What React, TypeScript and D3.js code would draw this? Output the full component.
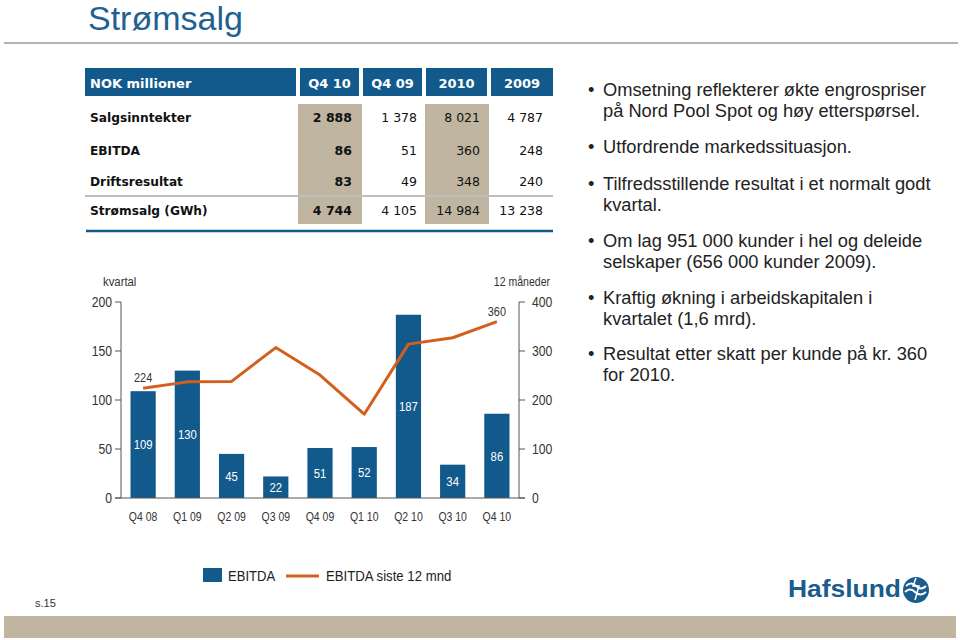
import React from "react";
import * as d3 from "d3";

const quarters = ["Q4 08", "Q1 09", "Q2 09", "Q3 09", "Q4 09", "Q1 10", "Q2 10", "Q3 10", "Q4 10"];
const ebitda = [109, 130, 45, 22, 51, 52, 187, 34, 86];
const ebitda12 = [224, 237, 238, 307, 251, 171, 314, 327, 360];
const leftTicks = [0, 50, 100, 150, 200];
const rightTicks = [0, 100, 200, 300, 400];

const tableHeader = "NOK millioner";
const tableColumns = ["Q4 10", "Q4 09", "2010", "2009"];
const tableRows = ["Salgsinntekter", "EBITDA", "Driftsresultat", "Strømsalg (GWh)"];
const tableValues = [
  ["2 888", "1 378", "8 021", "4 787"],
  ["86", "51", "360", "248"],
  ["83", "49", "348", "240"],
  ["4 744", "4 105", "14 984", "13 238"],
];

const bullets = [
  ["Omsetning reflekterer økte engrospriser", "på Nord Pool Spot og høy etterspørsel."],
  ["Utfordrende markedssituasjon."],
  ["Tilfredsstillende resultat i et normalt godt", "kvartal."],
  ["Om lag 951 000 kunder i hel og deleide", "selskaper (656 000 kunder 2009)."],
  ["Kraftig økning i arbeidskapitalen i", "kvartalet (1,6 mrd)."],
  ["Resultat etter skatt per kunde på kr. 360", "for 2010."],
];
const bulletY = [90, 147, 184, 241, 298, 354];

const BLUE = "#135a8c";
const ORANGE = "#d2601c";
const BEIGE = "#c0b5a0";
const SANS = "'Liberation Sans', Arial, sans-serif";
const VERD = "'DejaVu Sans', Verdana, sans-serif";

function NText(props: { x: number; y: number; size: number; anchor?: string; fill?: string; sx?: number; children: any }) {
  const { x, y, size, anchor = "start", fill = "#333", sx = 0.84, children } = props;
  return (
    <text transform={`translate(${x},${y}) scale(${sx},1)`} dy="0.35em" textAnchor={anchor}
      fontFamily={SANS} fontSize={size} fill={fill}>{children}</text>
  );
}

export default function App() {
  const x = d3.scaleBand<string>().domain(quarters).range([121, 519]).paddingInner(0.43).paddingOuter(0.215);
  const yL = d3.scaleLinear().domain([0, 200]).range([498, 302]);
  const yR = d3.scaleLinear().domain([0, 400]).range([498, 302]);
  const line = d3
    .line<number>()
    .x((_, i) => (x(quarters[i]) as number) + x.bandwidth() / 2)
    .y((d) => yR(d))
    .curve(d3.curveLinear);

  const colX = [298, 362, 425, 489];
  const colW = 64;
  const headerCells = [
    { x0: 85, x1: 296 },
    { x0: 300, x1: 359 },
    { x0: 363, x1: 422 },
    { x0: 426, x1: 487 },
    { x0: 491, x1: 553 },
  ];
  const rowY = [118, 151, 182, 211];
  const valueRight = [352, 417, 480, 543];

  const cx = (i: number) => (x(quarters[i]) as number) + x.bandwidth() / 2;

  return (
    <svg width={960} height={640} style={{ position: "absolute", left: 0, top: 0, background: "#fff" }}>
      <text x={88} y={30} fontFamily={SANS} fontSize={34} fill="#1f6191">Strømsalg</text>
      <line x1={4} x2={958} y1={43} y2={43} stroke="#b4b4b4" strokeWidth={2} />

      {headerCells.map((c, i) => (
        <rect key={"h" + i} x={c.x0} y={68} width={c.x1 - c.x0} height={28} fill={BLUE} />
      ))}
      <text x={90} y={83} dy="0.35em" fontFamily={VERD} fontWeight="bold" fontSize={13} fill="#fff">{tableHeader}</text>
      {tableColumns.map((c, i) => (
        <text key={"hc" + i} x={(headerCells[i + 1].x0 + headerCells[i + 1].x1) / 2} y={83} dy="0.35em" textAnchor="middle"
          fontFamily={VERD} fontWeight="bold" fontSize={13} fill="#fff">{c}</text>
      ))}
      <rect x={colX[0]} y={104} width={colW} height={120} fill={BEIGE} />
      <rect x={colX[2]} y={104} width={colW} height={120} fill={BEIGE} />
      <line x1={85} x2={553} y1={196} y2={196} stroke="#bdbdbd" strokeWidth={2} />
      <line x1={86} x2={553} y1={231} y2={231} stroke={BLUE} strokeWidth={2.5} />
      {tableRows.map((r, ri) => (
        <g key={"r" + ri}>
          <text x={90} y={rowY[ri]} dy="0.35em" fontFamily={VERD} fontWeight="bold" fontSize={12.2} fill="#111">{r}</text>
          {tableValues[ri].map((v, ci) => (
            <text key={ci} x={valueRight[ci]} y={rowY[ri]} dy="0.35em" textAnchor="end" fontFamily={VERD}
              fontWeight={ci === 0 ? "bold" : "normal"} fontSize={12.5} fill="#111">{v}</text>
          ))}
        </g>
      ))}

      <NText x={103} y={281} size={13.5}>kvartal</NText>
      <NText x={550} y={281} size={13.5} anchor="end" sx={0.78}>12 måneder</NText>

      {quarters.map((q, i) => (
        <rect key={"b" + i} x={x(q)} y={yL(ebitda[i])} width={x.bandwidth()} height={yL(0) - yL(ebitda[i])} fill={BLUE} />
      ))}
      {quarters.map((q, i) => (
        <NText key={"bl" + i} x={cx(i)} y={(yL(ebitda[i]) + yL(0)) / 2} size={13.5} anchor="middle" fill="#fff">{ebitda[i]}</NText>
      ))}

      <line x1={121} x2={121} y1={yL(200)} y2={yL(0)} stroke="#555" strokeWidth={1} />
      <line x1={519} x2={519} y1={yR(400)} y2={yR(0)} stroke="#555" strokeWidth={1} />
      <line x1={115} x2={525} y1={yL(0)} y2={yL(0)} stroke="#555" strokeWidth={1} />
      {leftTicks.map((t) => (
        <g key={"lt" + t}>
          <line x1={115} x2={121} y1={yL(t)} y2={yL(t)} stroke="#555" />
          <NText x={112} y={yL(t)} size={14.5} anchor="end">{t}</NText>
        </g>
      ))}
      {rightTicks.map((t) => (
        <g key={"rt" + t}>
          <line x1={519} x2={525} y1={yR(t)} y2={yR(t)} stroke="#555" />
          <NText x={532} y={yR(t)} size={14.5}>{t}</NText>
        </g>
      ))}
      {quarters.map((q, i) => (
        <NText key={"xl" + i} x={cx(i)} y={517} size={12.5} anchor="middle">{q}</NText>
      ))}

      <path d={line(ebitda12) as string} fill="none" stroke={ORANGE} strokeWidth={3} strokeLinejoin="round" />
      <NText x={cx(0)} y={yR(ebitda12[0]) - 11} size={13} anchor="middle">{ebitda12[0]}</NText>
      <NText x={cx(8)} y={yR(ebitda12[8]) - 10} size={13} anchor="middle">{ebitda12[8]}</NText>

      <rect x={203} y={568} width={19} height={14} fill={BLUE} />
      <NText x={228} y={576} size={14.5} fill="#222" sx={0.9}>EBITDA</NText>
      <line x1={286} x2={319} y1={576} y2={576} stroke={ORANGE} strokeWidth={3} />
      <NText x={326} y={576} size={14.5} fill="#222" sx={0.91}>EBITDA siste 12 mnd</NText>

      {bullets.map((b, bi) => (
        <g key={"bu" + bi}>
          <text x={588} y={bulletY[bi]} dy="0.35em" fontFamily={SANS} fontSize={18.3} fill="#222">•</text>
          {b.map((l, li) => (
            <text key={li} x={603} y={bulletY[bi] + li * 20.5} dy="0.35em" fontFamily={SANS} fontSize={18.3} fill="#222">{l}</text>
          ))}
        </g>
      ))}

      <text x={35} y={603} dy="0.35em" fontFamily={SANS} fontSize={11} fill="#333">s.15</text>
      <text x={788} y={597} fontFamily={SANS} fontWeight="bold" fontSize={23} fill="#1a5c8c" textLength={113} lengthAdjust="spacingAndGlyphs">Hafslund</text>
      <circle cx={916} cy={590} r={13} fill="#1a5c8c" />
      <path d="M906,586 q5,-5 10,0 t10,0" fill="none" stroke="#fff" strokeWidth={2} />
      <path d="M905,592 q5,-5 10,0 t11,0" fill="none" stroke="#fff" strokeWidth={2} />
      <path d="M916,578 l-3,8 l6,0 l-4,14" fill="none" stroke="#fff" strokeWidth={1.5} />
      <rect x={4} y={616} width={952} height={22} fill={BEIGE} />
    </svg>
  );
}
